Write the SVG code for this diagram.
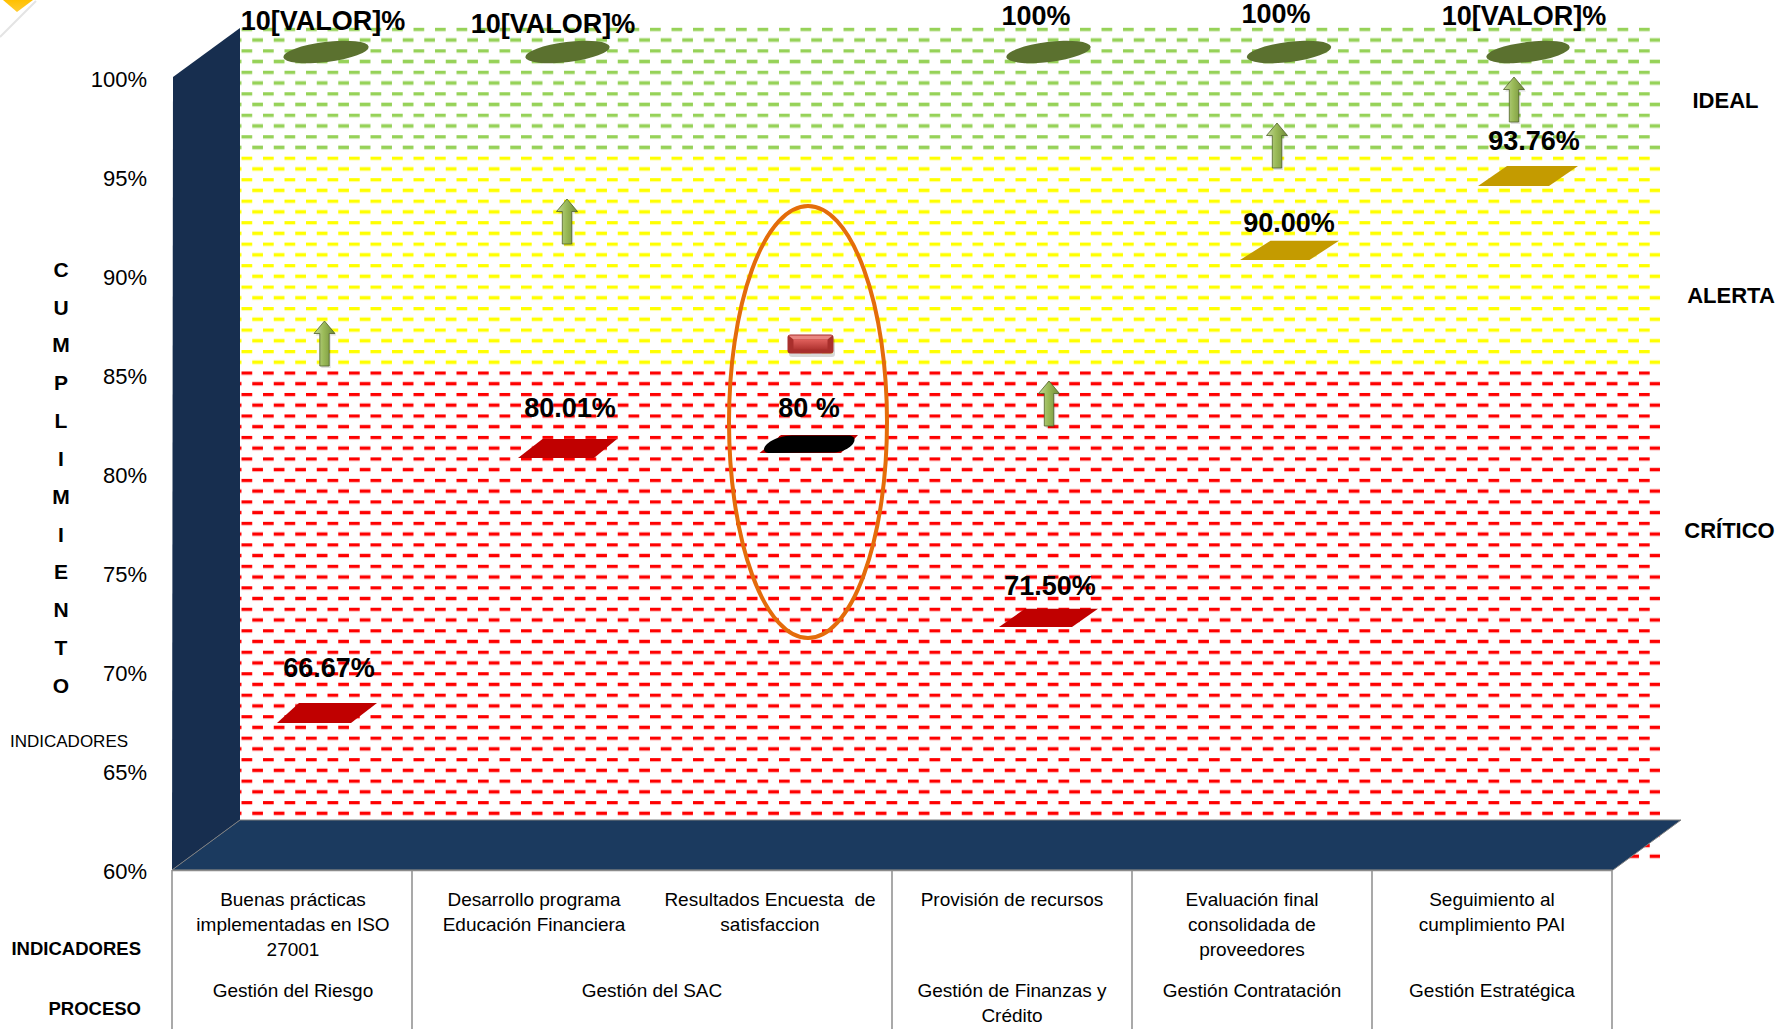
<svg xmlns="http://www.w3.org/2000/svg" width="1791" height="1029" viewBox="0 0 1791 1029">
<style>
text{font-family:"Liberation Sans",Arial,sans-serif;fill:#000}
.ax{font-size:22px;text-anchor:end}
.cu{font-size:21px;font-weight:bold;text-anchor:middle}
.top{font-size:27px;font-weight:bold;text-anchor:middle}
.val{font-size:27px;font-weight:bold;text-anchor:middle}
.zone{font-size:22px;font-weight:bold;text-anchor:middle}
.tb{font-size:19px;text-anchor:middle;white-space:pre}
.hd{font-size:18.5px;font-weight:bold;text-anchor:end}
.leaf{fill:#5b712f}
.red{fill:#c00000}
.gold{fill:#c49b00}
.tline{stroke:#8c8c8c;stroke-width:1.5;fill:none}
</style>
<defs>
<pattern id="pg" patternUnits="userSpaceOnUse" x="241.5" y="27.8" width="21.5" height="21.48">
<rect x="0" y="-1" width="10.7" height="5" fill="#dcefc8"/><rect x="10.75" y="9.74" width="10.7" height="5" fill="#dcefc8"/>
<rect x="0" y="0" width="10.7" height="3" fill="#96d258"/><rect x="10.75" y="10.74" width="10.7" height="3" fill="#96d258"/>
</pattern>
<pattern id="py" patternUnits="userSpaceOnUse" x="241.5" y="27.8" width="21.5" height="21.48">
<rect x="0" y="-1" width="10.7" height="5" fill="#ffffb8"/><rect x="10.75" y="9.74" width="10.7" height="5" fill="#ffffb8"/>
<rect x="0" y="0" width="10.7" height="3" fill="#ffff00"/><rect x="10.75" y="10.74" width="10.7" height="3" fill="#ffff00"/>
</pattern>
<pattern id="pr" patternUnits="userSpaceOnUse" x="241.5" y="27.8" width="21.5" height="21.48">
<rect x="0" y="-1" width="10.7" height="5" fill="#ffc4c4"/><rect x="10.75" y="9.74" width="10.7" height="5" fill="#ffc4c4"/>
<rect x="0" y="0" width="10.7" height="3" fill="#ff0000"/><rect x="10.75" y="10.74" width="10.7" height="3" fill="#ff0000"/>
</pattern>
<linearGradient id="ag" x1="0" y1="0" x2="1" y2="0">
<stop offset="0" stop-color="#c3d69b"/><stop offset="0.45" stop-color="#9bbb59"/><stop offset="1" stop-color="#6f8a36"/>
</linearGradient>
<linearGradient id="bx" x1="0" y1="0" x2="0" y2="1">
<stop offset="0" stop-color="#e0605c"/><stop offset="1" stop-color="#b03330"/>
</linearGradient>
<linearGradient id="tri" x1="0" y1="0" x2="0" y2="1">
<stop offset="0" stop-color="#ffc000"/><stop offset="1" stop-color="#ffcc33"/>
</linearGradient>
<g id="arrow">
<path d="M1.5,2 L12,14.5 L6.2,14.5 L6.2,47 L-3.2,47 L-3.2,14.5 L-9,14.5 Z" fill="#000" opacity="0.12"/>
<path d="M0,0 L10.5,12.5 L4.7,12.5 L4.7,45 L-4.7,45 L-4.7,12.5 L-10.5,12.5 Z" fill="url(#ag)" stroke="#4f6228" stroke-width="0.8"/>
</g>
</defs>

<g id="corner">
<line x1="36" y1="1" x2="0" y2="37" stroke="#e4e4e4" stroke-width="2"/>
<polygon points="3,0 33,0 17,12" fill="url(#tri)"/>
</g>

<g id="grid">
<rect x="240" y="26" width="1420" height="124" fill="url(#pg)"/>
<rect x="240" y="150" width="1420" height="217" fill="url(#py)"/>
<rect x="240" y="367" width="1420" height="495" fill="url(#pr)"/>
</g>

<g id="wall">
<polygon points="173,77 240,28 240,820 172,870" fill="#172e4f"/>
</g>
<g id="floor">
<polygon points="240,820 1681,820 1613,870 172,870" fill="#1b3a5f" stroke="#7f7f7f" stroke-width="1"/>
</g>

<g id="y-axis">
<text class="ax" x="147" y="87.3">100%</text>
<text class="ax" x="147" y="186.2">95%</text>
<text class="ax" x="147" y="285.1">90%</text>
<text class="ax" x="147" y="384">85%</text>
<text class="ax" x="147" y="482.9">80%</text>
<text class="ax" x="147" y="581.8">75%</text>
<text class="ax" x="147" y="680.7">70%</text>
<text class="ax" x="147" y="779.6">65%</text>
<text class="ax" x="147" y="878.5">60%</text>
</g>

<g id="y-title">
<text class="cu" x="61" y="276.7">C</text>
<text class="cu" x="61" y="314.5">U</text>
<text class="cu" x="61" y="352.3">M</text>
<text class="cu" x="61" y="390">P</text>
<text class="cu" x="61" y="428">L</text>
<text class="cu" x="61" y="466">I</text>
<text class="cu" x="61" y="503.7">M</text>
<text class="cu" x="61" y="541.5">I</text>
<text class="cu" x="61" y="579.3">E</text>
<text class="cu" x="61" y="617">N</text>
<text class="cu" x="61" y="655">T</text>
<text class="cu" x="61" y="692.8">O</text>
<text x="10" y="746.5" style="font-size:17px">INDICADORES</text>
</g>

<g id="zones">
<text class="zone" x="1725.5" y="108">IDEAL</text>
<text class="zone" x="1731" y="303">ALERTA</text>
<text class="zone" x="1729.5" y="538">CRÍTICO</text>
</g>

<g id="table">
<line class="tline" x1="172" y1="870.5" x2="1612" y2="870.5"/>
<line class="tline" x1="172" y1="870" x2="172" y2="1029"/>
<line class="tline" x1="412" y1="870" x2="412" y2="1029"/>
<line class="tline" x1="892" y1="870" x2="892" y2="1029"/>
<line class="tline" x1="1132" y1="870" x2="1132" y2="1029"/>
<line class="tline" x1="1372" y1="870" x2="1372" y2="1029"/>
<line class="tline" x1="1612" y1="870" x2="1612" y2="1029"/>
<text class="hd" x="141" y="955">INDICADORES</text>
<text class="hd" x="141" y="1015">PROCESO</text>
<text class="tb" x="293" y="906">Buenas prácticas</text>
<text class="tb" x="293" y="931">implementadas en ISO</text>
<text class="tb" x="293" y="956">27001</text>
<text class="tb" x="293" y="997">Gestión del Riesgo</text>
<text class="tb" x="534" y="906">Desarrollo programa</text>
<text class="tb" x="534" y="931">Educación Financiera</text>
<text class="tb" x="770" y="906" xml:space="preserve">Resultados Encuesta  de</text>
<text class="tb" x="770" y="931">satisfaccion</text>
<text class="tb" x="652" y="997">Gestión del SAC</text>
<text class="tb" x="1012" y="906">Provisión de recursos</text>
<text class="tb" x="1012" y="997">Gestión de Finanzas y</text>
<text class="tb" x="1012" y="1022">Crédito</text>
<text class="tb" x="1252" y="906">Evaluación final</text>
<text class="tb" x="1252" y="931">consolidada de</text>
<text class="tb" x="1252" y="956">proveedores</text>
<text class="tb" x="1252" y="997">Gestión Contratación</text>
<text class="tb" x="1492" y="906">Seguimiento al</text>
<text class="tb" x="1492" y="931">cumplimiento PAI</text>
<text class="tb" x="1492" y="997">Gestión Estratégica</text>
</g>

<g id="col1">
<ellipse class="leaf" cx="326" cy="52" rx="43" ry="10" transform="rotate(-7 326 52)"/>
<use href="#arrow" x="324.5" y="321"/>
<polygon class="red" points="277,723 299,703 377,703 351,723"/>
<text class="top" x="323" y="29.5">10[VALOR]%</text>
<text class="val" x="329" y="677">66.67%</text>
</g>

<g id="col2">
<ellipse class="leaf" cx="567.5" cy="52" rx="42.5" ry="10" transform="rotate(-7 567.5 52)"/>
<use href="#arrow" x="567" y="199"/>
<polygon class="red" points="518,458 542.5,439 617,439 594,458"/>
<text class="top" x="553" y="32.5">10[VALOR]%</text>
<text class="val" x="570" y="416.5">80.01%</text>
</g>

<g id="col3">
<rect x="789" y="338" width="46" height="19" rx="3" fill="#000" opacity="0.15"/>
<rect x="787.5" y="334.5" width="46" height="19" rx="3" fill="#a92f2c"/>
<polygon points="788.5,335.5 832.5,335.5 827.5,339.5 793.5,339.5" fill="#e98682"/>
<rect x="793.5" y="339.5" width="34" height="10" fill="url(#bx)"/>
<polygon class="red" points="759.5,453 781,435 858,435 841,453"/>
<path d="M770,453 C756,453 768,436 792,435.5 L848,435.5 C862,435.5 852,452.5 832,452.5 Z" fill="#000"/>
<ellipse cx="808" cy="422" rx="79" ry="216" fill="none" stroke="#e46c0a" stroke-width="4"/>
<text class="val" x="809" y="416.5">80 %</text>
</g>

<g id="col4">
<ellipse class="leaf" cx="1048.5" cy="52" rx="42.5" ry="10" transform="rotate(-7 1048.5 52)"/>
<use href="#arrow" x="1049" y="381"/>
<polygon class="red" points="999,627 1025,608.7 1098,608.7 1072,627"/>
<text class="top" x="1036" y="25">100%</text>
<text class="val" x="1050" y="595">71.50%</text>
</g>

<g id="col5">
<ellipse class="leaf" cx="1289" cy="52" rx="42.5" ry="10" transform="rotate(-7 1289 52)"/>
<use href="#arrow" x="1277" y="123"/>
<polygon class="gold" points="1240,260 1270.5,240.7 1339,240.7 1309.5,260"/>
<text class="top" x="1276" y="22.5">100%</text>
<text class="val" x="1289" y="231.5">90.00%</text>
</g>

<g id="col6">
<ellipse class="leaf" cx="1528" cy="52" rx="42" ry="10" transform="rotate(-7 1528 52)"/>
<use href="#arrow" x="1514" y="77"/>
<polygon class="gold" points="1478,186 1507,166 1578,166 1549,186"/>
<text class="top" x="1524" y="25">10[VALOR]%</text>
<text class="val" x="1534" y="150">93.76%</text>
</g>
</svg>
